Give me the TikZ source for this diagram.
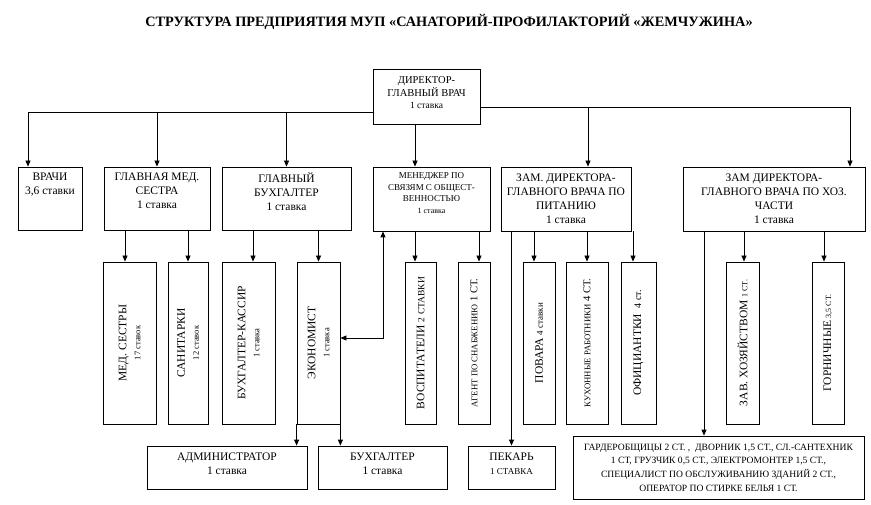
\documentclass[tikz,border=0pt]{standalone}
\usepackage{fontspec}
\setmainfont{Liberation Serif}
\usetikzlibrary{arrows.meta}
\newcommand{\myfs}[2]{\fontsize{#1}{#2}\selectfont}
\newcommand{\mybox}[5]{\node[box, minimum width={#4-#2}, minimum height={#5-#3}] (#1) at ({(#2+#4)/2},{(#3+#5)/2}) {};}
\begin{document}
\begin{tikzpicture}[x=1pt,y=-1pt,
 box/.style={draw, line width=0.8pt, inner sep=0pt},
 txt/.style={inner sep=0pt, align=center, font=\myfs{11.5}{14}},
 vtxt/.style={inner sep=0pt, align=center, rotate=90, font=\myfs{11.5}{14}},
 arr/.style={line width=0.8pt, -{Triangle[length=6pt,width=5pt]}},
 darr/.style={line width=0.8pt, {Triangle[length=6pt,width=5pt]}-{Triangle[length=6pt,width=5pt]}}]
\useasboundingbox (0,0) rectangle (871,505);

\node[inner sep=0pt, font=\bfseries\myfs{14.3}{16}] (title) at (449,22) {СТРУКТУРА ПРЕДПРИЯТИЯ МУП «САНАТОРИЙ-ПРОФИЛАКТОРИЙ «ЖЕМЧУЖИНА»};

% boxes
\mybox{dir}{373}{69}{480}{124}
\mybox{vrachi}{18}{167}{82}{230}
\mybox{glmed}{104}{167}{210}{230}
\mybox{glbuh}{222}{167}{351}{230}
\mybox{men}{373}{167}{490}{231}
\mybox{zampit}{501}{167}{631}{231}
\mybox{zamhoz}{683}{167}{865}{231}

\mybox{medses}{103}{262}{156}{424}
\mybox{sanit}{168}{262}{208}{424}
\mybox{buhkas}{222}{262}{275}{424}
\mybox{ekon}{297}{262}{340}{424}
\mybox{vosp}{405}{262}{436}{424}
\mybox{agent}{458}{262}{490}{424}
\mybox{povar}{523}{262}{555}{424}
\mybox{kuhn}{566}{262}{608}{424}
\mybox{ofic}{621}{262}{656}{424}
\mybox{zavhoz}{726}{262}{759}{424}
\mybox{gorn}{812}{262}{844}{424}

\mybox{admin}{147}{446}{307}{489}
\mybox{buh}{318}{446}{447}{489}
\mybox{pekar}{468}{446}{555}{489}
\mybox{garder}{573}{436}{864}{499}

% texts
\node[txt, anchor=north, font=\myfs{10.5}{12.5}] (dir-t) at ([yshift=-8]dir.north) {ДИРЕКТОР-\\ГЛАВНЫЙ ВРАЧ\\{\myfs{9.5}{12}1 ставка}};
\node[txt, anchor=north] (vrachi-t) at ([yshift=-6]vrachi.north) {ВРАЧИ\\3,6 ставки};
\node[txt, anchor=north] (glmed-t) at ([yshift=-6]glmed.north) {ГЛАВНАЯ МЕД.\\СЕСТРА\\1 ставка};
\node[txt, anchor=north] (glbuh-t) at ([yshift=-6]glbuh.north) {ГЛАВНЫЙ\\БУХГАЛТЕР\\1 ставка};
\node[txt, anchor=north, font=\myfs{9}{11.5}] (men-t) at ([yshift=-6]men.north) {МЕНЕДЖЕР ПО\\СВЯЗЯМ С ОБЩЕСТ-\\ВЕННОСТЬЮ\\{\myfs{8}{12.5}1 ставка}};
\node[txt, anchor=north, font=\myfs{11.5}{14}] (zampit-t) at ([yshift=-7]zampit.north) {ЗАМ. ДИРЕКТОРА-\\ГЛАВНОГО ВРАЧА ПО\\ПИТАНИЮ\\1 ставка};
\node[txt, anchor=north, font=\myfs{11.5}{14}] (zamhoz-t) at ([yshift=-7]zamhoz.north) {ЗАМ ДИРЕКТОРА-\\ГЛАВНОГО ВРАЧА ПО ХОЗ.\\ЧАСТИ\\1 ставка};

\node[vtxt] (medses-t) at (medses.center) {МЕД. СЕСТРЫ\\{\myfs{8.5}{14}17 ставок}};
\node[vtxt] (sanit-t) at (sanit.center) {САНИТАРКИ\\{\myfs{8.5}{14}12 ставок}};
\node[vtxt] (buhkas-t) at (buhkas.center) {БУХГАЛТЕР-КАССИР\\{\myfs{8.5}{14}1 ставка}};
\node[vtxt] (ekon-t) at (ekon.center) {ЭКОНОМИСТ\\{\myfs{8.5}{14}1 ставка}};
\node[vtxt] (vosp-t) at (vosp.center) {ВОСПИТАТЕЛИ {\myfs{9.5}{11}2 СТАВКИ}};
\node[vtxt] (agent-t) at (agent.center) {{\myfs{8.7}{10}АГЕНТ ПО СНАБЖЕНИЮ} {\myfs{10.5}{12}1 СТ.}};
\node[vtxt] (povar-t) at (povar.center) {ПОВАРА {\myfs{9}{11}4 ставки}};
\node[vtxt] (kuhn-t) at (kuhn.center) {{\myfs{8.7}{10}КУХОННЫЕ РАБОТНИКИ} {\myfs{10.5}{12}4 СТ.}};
\node[vtxt] (ofic-t) at (ofic.center) {ОФИЦИАНТКИ\ \ {\myfs{10}{12}4 ст.}};
\node[vtxt] (zavhoz-t) at (zavhoz.center) {ЗАВ. ХОЗЯЙСТВОМ {\myfs{8}{10}1 СТ.}};
\node[vtxt] (gorn-t) at (gorn.center) {ГОРНИЧНЫЕ {\myfs{8}{10}3,5 СТ.}};

\node[txt, anchor=north] (admin-t) at ([yshift=-7]admin.north) {АДМИНИСТРАТОР\\1 ставка};
\node[txt, anchor=north] (buh-t) at ([yshift=-7]buh.north) {БУХГАЛТЕР\\1 ставка};
\node[txt, anchor=north] (pekar-t) at ([yshift=-7]pekar.north) {ПЕКАРЬ\\{\myfs{9}{14}1 СТАВКА}};
\node[txt, anchor=north, font=\myfs{9.6}{13.7}] (garder-t) at ([yshift=-8]garder.north) {ГАРДЕРОБЩИЦЫ 2 СТ. ,\ \ ДВОРНИК 1,5 СТ., СЛ.-САНТЕХНИК\\1 СТ, ГРУЗЧИК 0,5 СТ., ЭЛЕКТРОМОНТЕР 1,5 СТ.,\\СПЕЦИАЛИСТ ПО ОБСЛУЖИВАНИЮ ЗДАНИЙ 2 СТ.,\\ОПЕРАТОР ПО СТИРКЕ БЕЛЬЯ 1 СТ.};

% connectors
\coordinate (jL) at (373,112);
\coordinate (jR) at (480,107);
\draw[arr] (jL) -| ([xshift=-22]vrachi.north);
\draw[arr] (glmed.north |- jL) -- (glmed.north);
\draw[arr] (glbuh.north |- jL) -- (glbuh.north);
\draw[arr] ([xshift=-11.5]dir.south) -- ([xshift=-11.5]dir.south |- men.north);
\draw[arr] (jR) -| ([xshift=76]zamhoz.north);
\draw[arr] ([xshift=22]zampit.north |- jR) -- ([xshift=22]zampit.north);

\draw[arr] ([xshift=-4.5]medses.north |- glmed.south) -- ([xshift=-4.5]medses.north);
\draw[arr] (sanit.north |- glmed.south) -- (sanit.north);
\draw[arr] ([xshift=4.5]buhkas.north |- glbuh.south) -- ([xshift=4.5]buhkas.north);
\draw[arr] (ekon.north |- glbuh.south) -- (ekon.north);

\draw[darr] ([xshift=-48.5]men.south) |- ([yshift=5]ekon.east);
\draw[arr] ([xshift=-5.5]vosp.north |- men.south) -- ([xshift=-5.5]vosp.north);
\draw[arr] ([xshift=5]agent.north |- men.south) -- ([xshift=5]agent.north);

\draw[arr] (pekar.north |- zampit.south) -- (pekar.north);
\draw[arr] ([xshift=-5]povar.north |- zampit.south) -- ([xshift=-5]povar.north);
\draw[arr] (kuhn.north |- zampit.south) -- (kuhn.north);
\draw[arr] ([xshift=-5.5]ofic.north |- zampit.south) -- ([xshift=-5.5]ofic.north);

\draw[arr] ([xshift=-14.5]garder.north |- zamhoz.south) -- ([xshift=-14.5]garder.north);
\draw[arr] ([xshift=1.5]zavhoz.north |- zamhoz.south) -- ([xshift=1.5]zavhoz.north);
\draw[arr] ([xshift=-4]gorn.north |- zamhoz.south) -- ([xshift=-4]gorn.north);

\draw[arr] (ekon.south west) -- (ekon.south west |- admin.north);
\draw[arr] (ekon.south east) -- (ekon.south east |- buh.north);
\end{tikzpicture}
\end{document}
